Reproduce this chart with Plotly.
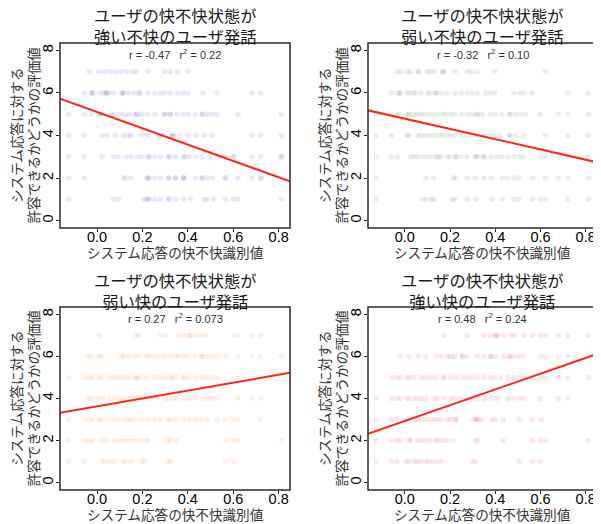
import plotly.graph_objects as go

# ---------------- data (x values per rating level) ----------------
# Panel 1: strong-unpleasant user utterances
S_NEG_7 = [-0.034, 0.009, 0.034, 0.059, 0.084, 0.107, 0.132, 0.157, 0.173, 0.223, 0.298, 0.323, 0.355, 0.399]
S_NEG_6 = [-0.056, -0.026, -0.019, -0.019, 0.012, 0.029, 0.041, 0.041, 0.051, 0.073, 0.107, 0.115, 0.115, 0.139, 0.162,
           0.186, 0.186, 0.223, 0.254, 0.279, 0.298, 0.323, 0.355, 0.379, 0.401, 0.467, 0.529, 0.683, 0.721]
S_NEG_5 = [-0.125, -0.056, -0.026, 0.007, 0.018, 0.018, 0.059, 0.073, 0.095, 0.117, 0.139, 0.162, 0.176, 0.176, 0.198,
           0.223, 0.254, 0.298, 0.298, 0.323, 0.323, 0.352, 0.379, 0.401, 0.433, 0.463, 0.463, 0.485, 0.507, 0.529,
           0.621, 0.812]
S_NEG_4 = [-0.125, -0.056, 0.022, 0.044, 0.081, 0.117, 0.139, 0.150, 0.198, 0.223, 0.276, 0.286, 0.327, 0.335, 0.335,
           0.364, 0.401, 0.436, 0.473, 0.507, 0.683, 0.720, 0.812]
S_NEG_3 = [-0.125, -0.056, 0.022, 0.073, 0.095, 0.128, 0.150, 0.179, 0.198, 0.228, 0.228, 0.254, 0.279, 0.316, 0.316,
           0.345, 0.385, 0.385, 0.408, 0.433, 0.463, 0.496, 0.529, 0.565, 0.602, 0.602, 0.683, 0.721, 0.812, 0.812]
S_NEG_2 = [-0.125, -0.056, 0.117, 0.128, 0.150, 0.217, 0.228, 0.228, 0.254, 0.279, 0.316, 0.316, 0.345, 0.345, 0.382,
           0.382, 0.382, 0.433, 0.463, 0.463, 0.485, 0.507, 0.565, 0.565, 0.621, 0.683, 0.721, 0.721]
S_NEG_1 = [-0.125, 0.073, 0.095, 0.206, 0.217, 0.228, 0.228, 0.254, 0.279, 0.316, 0.316, 0.345, 0.382, 0.411,
           0.473, 0.485, 0.514, 0.565, 0.602, 0.621, 0.812]

# Panel 2: weak-unpleasant user utterances
W_NEG_7 = [-0.035, -0.018, 0.009, 0.023, 0.059, 0.059, 0.097, 0.112, 0.129, 0.166, 0.166, 0.176, 0.222, 0.276, 0.295,
           0.320, 0.398, 0.621]
W_NEG_6 = [-0.059, -0.035, -0.021, -0.021, 0.009, 0.023, 0.038, 0.048, 0.070, 0.100, 0.115, 0.137, 0.137, 0.161, 0.185,
           0.222, 0.251, 0.276, 0.298, 0.320, 0.357, 0.379, 0.398, 0.482, 0.507, 0.526, 0.562, 0.721, 0.812]
W_NEG_5 = [-0.128, -0.059, -0.035, -0.025, 0.004, 0.019, 0.019, 0.041, 0.056, 0.070, 0.088, 0.107, 0.125, 0.147, 0.166,
           0.181, 0.203, 0.220, 0.251, 0.276, 0.298, 0.320, 0.320, 0.342, 0.379, 0.401, 0.430, 0.464, 0.464, 0.489,
           0.511, 0.533, 0.599, 0.680, 0.721, 0.812]
W_NEG_4 = [-0.128, -0.059, 0.009, 0.019, 0.056, 0.070, 0.088, 0.107, 0.126, 0.147, 0.166, 0.185, 0.203, 0.222, 0.251,
           0.276, 0.298, 0.320, 0.342, 0.361, 0.382, 0.401, 0.423, 0.464, 0.464, 0.489, 0.526, 0.621, 0.721, 0.812]
W_NEG_3 = [-0.128, -0.059, -0.032, 0.026, 0.041, 0.056, 0.078, 0.097, 0.117, 0.137, 0.147, 0.161, 0.188, 0.203, 0.226,
           0.226, 0.251, 0.276, 0.313, 0.313, 0.324, 0.349, 0.349, 0.382, 0.408, 0.430, 0.455, 0.482, 0.507, 0.526,
           0.599, 0.621, 0.684, 0.721, 0.812]
W_NEG_2 = [-0.128, 0.093, 0.129, 0.214, 0.225, 0.276, 0.313, 0.349, 0.382, 0.430, 0.452, 0.482, 0.504, 0.565, 0.621,
           0.680, 0.721, 0.812]
W_NEG_1 = [-0.128, 0.078, 0.093, 0.115, 0.129, 0.210, 0.220, 0.276, 0.313, 0.386, 0.430, 0.482, 0.504, 0.565, 0.599,
           0.621, 0.721, 0.812]

# Panel 3: weak-pleasant user utterances
W_POS_7 = [0.010, 0.173, 0.185, 0.279, 0.301, 0.357, 0.382, 0.408, 0.408, 0.433, 0.458, 0.482, 0.602, 0.621, 0.683, 0.721]
W_POS_6 = [-0.037, -0.022, 0.007, 0.018, 0.107, 0.117, 0.139, 0.164, 0.186, 0.217, 0.232, 0.253, 0.276, 0.298, 0.323,
           0.349, 0.360, 0.382, 0.401, 0.433, 0.463, 0.463, 0.485, 0.507, 0.529, 0.565, 0.621, 0.683, 0.721, 0.812]
W_POS_5 = [-0.125, -0.056, -0.034, -0.019, 0.007, 0.022, 0.059, 0.076, 0.095, 0.117, 0.139, 0.164, 0.176, 0.176, 0.198,
           0.220, 0.254, 0.279, 0.301, 0.327, 0.327, 0.345, 0.382, 0.382, 0.404, 0.433, 0.463, 0.485, 0.507, 0.529,
           0.617, 0.812]
W_POS_4 = [-0.037, -0.019, 0.007, 0.029, 0.059, 0.081, 0.100, 0.120, 0.139, 0.164, 0.188, 0.213, 0.235, 0.254, 0.301,
           0.316, 0.335, 0.352, 0.382, 0.408, 0.433, 0.463, 0.485, 0.507, 0.529, 0.621, 0.683, 0.721]
W_POS_3 = [-0.125, -0.056, -0.034, -0.019, 0.007, 0.018, 0.044, 0.076, 0.095, 0.120, 0.139, 0.150, 0.169, 0.198, 0.223,
           0.254, 0.279, 0.311, 0.323, 0.345, 0.382, 0.408, 0.433, 0.458, 0.485, 0.529, 0.565, 0.602, 0.621, 0.721]
W_POS_2 = [-0.125, -0.056, -0.034, -0.019, 0.022, 0.044, 0.076, 0.100, 0.117, 0.139, 0.164, 0.186, 0.213, 0.223, 0.311,
           0.323, 0.349, 0.565, 0.602, 0.621, 0.812]
W_POS_1 = [-0.125, -0.056, 0.022, 0.037, 0.056, 0.076, 0.117, 0.128, 0.150, 0.198, 0.213, 0.311, 0.323, 0.565, 0.602]

# Panel 4: strong-pleasant user utterances
S_POS_7 = [0.173, 0.276, 0.349, 0.379, 0.398, 0.408, 0.408, 0.437, 0.467, 0.485, 0.526, 0.565, 0.599, 0.621, 0.680,
           0.721, 0.812]
S_POS_6 = [-0.021, 0.019, 0.059, 0.093, 0.137, 0.161, 0.188, 0.203, 0.220, 0.254, 0.254, 0.276, 0.320, 0.349, 0.379,
           0.379, 0.401, 0.437, 0.464, 0.464, 0.482, 0.504, 0.526, 0.599, 0.621, 0.680, 0.721]
S_POS_5 = [-0.059, -0.035, -0.021, 0.009, 0.019, 0.041, 0.073, 0.093, 0.115, 0.137, 0.166, 0.176, 0.203, 0.225, 0.254,
           0.276, 0.298, 0.320, 0.349, 0.379, 0.398, 0.423, 0.455, 0.482, 0.504, 0.526, 0.562, 0.599, 0.621, 0.680,
           0.721, 0.812]
S_POS_4 = [-0.128, -0.059, -0.035, -0.021, 0.009, 0.019, 0.041, 0.056, 0.073, 0.093, 0.129, 0.144, 0.176, 0.203, 0.220,
           0.251, 0.276, 0.298, 0.324, 0.352, 0.382, 0.408, 0.455, 0.482, 0.507, 0.526, 0.599, 0.680, 0.721]
S_POS_3 = [-0.128, -0.059, -0.035, 0.004, 0.019, 0.041, 0.056, 0.073, 0.093, 0.112, 0.129, 0.144, 0.161, 0.188, 0.203,
           0.225, 0.225, 0.302, 0.317, 0.317, 0.324, 0.342, 0.386, 0.401, 0.435, 0.507, 0.565, 0.602]
S_POS_2 = [-0.128, -0.059, -0.035, -0.021, 0.019, 0.026, 0.056, 0.073, 0.093, 0.115, 0.137, 0.147, 0.166, 0.188, 0.214,
           0.313, 0.324, 0.435, 0.565, 0.599, 0.621, 0.812]
S_POS_1 = [-0.128, -0.059, -0.035, 0.004, 0.019, 0.041, 0.056, 0.070, 0.093, 0.107, 0.126, 0.147, 0.166, 0.298, 0.313,
           0.507, 0.565, 0.599]

PANEL_TITLES = ["ユーザの快不快状態が<br>強い不快のユーザ発話", "ユーザの快不快状態が<br>弱い不快のユーザ発話",
                "ユーザの快不快状態が<br>弱い快のユーザ発話", "ユーザの快不快状態が<br>強い快のユーザ発話"]
STATS_TEXT = ["r = -0.47\u00a0\u00a0\u00a0r<sup>2</sup> = 0.22", "r = -0.32\u00a0\u00a0\u00a0r<sup>2</sup> = 0.10",
              "r = 0.27\u00a0\u00a0\u00a0r<sup>2</sup> = 0.073", "r = 0.48\u00a0\u00a0\u00a0r<sup>2</sup> = 0.24"]
FIT_INTERCEPT = [5.11, 4.79, 3.63, 2.93]
FIT_SLOPE = [-3.84, -2.41, 1.875, 3.75]
MARKER_COLORS = ["rgb(95,95,185)", "rgb(70,130,70)", "rgb(250,140,55)", "rgb(215,45,95)"]
MARKER_OPACITY = [0.13, 0.12, 0.13, 0.11]

X_TICKS = [0.0, 0.2, 0.4, 0.6, 0.8]
X_TICK_TEXT = ["0.0", "0.2", "0.4", "0.6", "0.8"]
Y_TICKS = [0, 2, 4, 6, 8]
X_TITLE = "システム応答の快不快識別値"
Y_TITLE = "システム応答に対する<br>許容できるかどうかの評価値"
X_RANGE = [-0.163, 0.85]
Y_RANGE = [-0.35, 8.35]

panel_rows = [
    [S_NEG_1, S_NEG_2, S_NEG_3, S_NEG_4, S_NEG_5, S_NEG_6, S_NEG_7],
    [W_NEG_1, W_NEG_2, W_NEG_3, W_NEG_4, W_NEG_5, W_NEG_6, W_NEG_7],
    [W_POS_1, W_POS_2, W_POS_3, W_POS_4, W_POS_5, W_POS_6, W_POS_7],
    [S_POS_1, S_POS_2, S_POS_3, S_POS_4, S_POS_5, S_POS_6, S_POS_7],
]

# ---------------- layout geometry (page pixels; the page body has an 8px margin) ----------------
OFF = 8
FW, FH = 593, 516


def px(x_page):
    return (x_page - OFF) / FW


def py(y_page):
    return 1 - (y_page - OFF) / FH


x_pages = [(60, 290), (368, 597)]
y_pages = [(43, 228), (307, 490)]

FONT = "Noto Sans CJK JP"
fig = go.Figure()
annotations = []
shapes = []

for i in range(4):
    col, row = i % 2, i // 2
    n = i + 1
    xa = "x" if n == 1 else f"x{n}"
    ya = "y" if n == 1 else f"y{n}"
    xs, ys = [], []
    for level, vals in enumerate(panel_rows[i], start=1):
        xs += vals
        ys += [level] * len(vals)
    fig.add_trace(go.Scatter(
        x=xs, y=ys, mode="markers", xaxis=xa, yaxis=ya, showlegend=False,
        marker=dict(size=5.5, color=MARKER_COLORS[i], opacity=MARKER_OPACITY[i], line=dict(width=0)),
        hoverinfo="skip"))
    fx = X_RANGE
    fy = [FIT_INTERCEPT[i] + FIT_SLOPE[i] * v for v in fx]
    fig.add_trace(go.Scatter(
        x=fx, y=fy, mode="lines", xaxis=xa, yaxis=ya, showlegend=False,
        line=dict(color="rgb(255,40,20)", width=2), hoverinfo="skip"))

    x0p, x1p = x_pages[col]
    y0p, y1p = y_pages[row]
    axis_common = dict(showline=False, showgrid=False, zeroline=False, ticks="outside", ticklen=3,
                       tickwidth=1, tickcolor="#222222",
                       tickfont=dict(family="Liberation Sans", size=14.5, color="black"))
    xkey = "xaxis" if n == 1 else f"xaxis{n}"
    ykey = "yaxis" if n == 1 else f"yaxis{n}"
    fig.layout[xkey] = dict(domain=[px(x0p), px(x1p)], range=X_RANGE, anchor=ya, tickvals=X_TICKS,
                            ticktext=X_TICK_TEXT, ticklabelstandoff=-7, **axis_common)
    fig.layout[ykey] = dict(domain=[py(y1p), py(y0p)], range=Y_RANGE, anchor=xa, tickvals=Y_TICKS,
                            tickangle=-90, ticklabelstandoff=-3, **axis_common)

    # axes frame
    shapes.append(dict(type="rect", xref=f"{xa} domain", yref=f"{ya} domain", x0=0, x1=1, y0=0, y1=1,
                       line=dict(color="#2a2a2a", width=1.5), fillcolor="rgba(0,0,0,0)", layer="above"))

    xc = px((x0p + x1p) / 2)
    # panel title
    annotations.append(dict(text=PANEL_TITLES[i], xref="paper", yref="paper", x=xc, y=py(y0p - 17),
                            xanchor="center", yanchor="middle", showarrow=False,
                            font=dict(family=FONT, size=16.3, color="#1a1a1a")))
    # r / r^2 text
    annotations.append(dict(text=STATS_TEXT[i], xref="paper", yref="paper", x=xc, y=py(y0p + 2),
                            xanchor="center", yanchor="top", showarrow=False,
                            font=dict(family="Liberation Sans", size=11, color="#333333")))
    # x title
    annotations.append(dict(text=X_TITLE, xref="paper", yref="paper", x=xc, y=py(y1p + 24),
                            xanchor="center", yanchor="middle", showarrow=False,
                            font=dict(family=FONT, size=13.6, color="#333333")))
    # y title
    annotations.append(dict(text=Y_TITLE, xref="paper", yref="paper", x=px(x0p - 15),
                            y=py((y0p + y1p) / 2), xanchor="right", yanchor="middle", textangle=-90,
                            showarrow=False, font=dict(family=FONT, size=13.6, color="#333333")))

fig.update_layout(width=FW, height=FH, margin=dict(l=0, r=0, t=0, b=0),
                  plot_bgcolor="white", paper_bgcolor="white",
                  annotations=annotations, shapes=shapes)

fig.write_html("out.html")
